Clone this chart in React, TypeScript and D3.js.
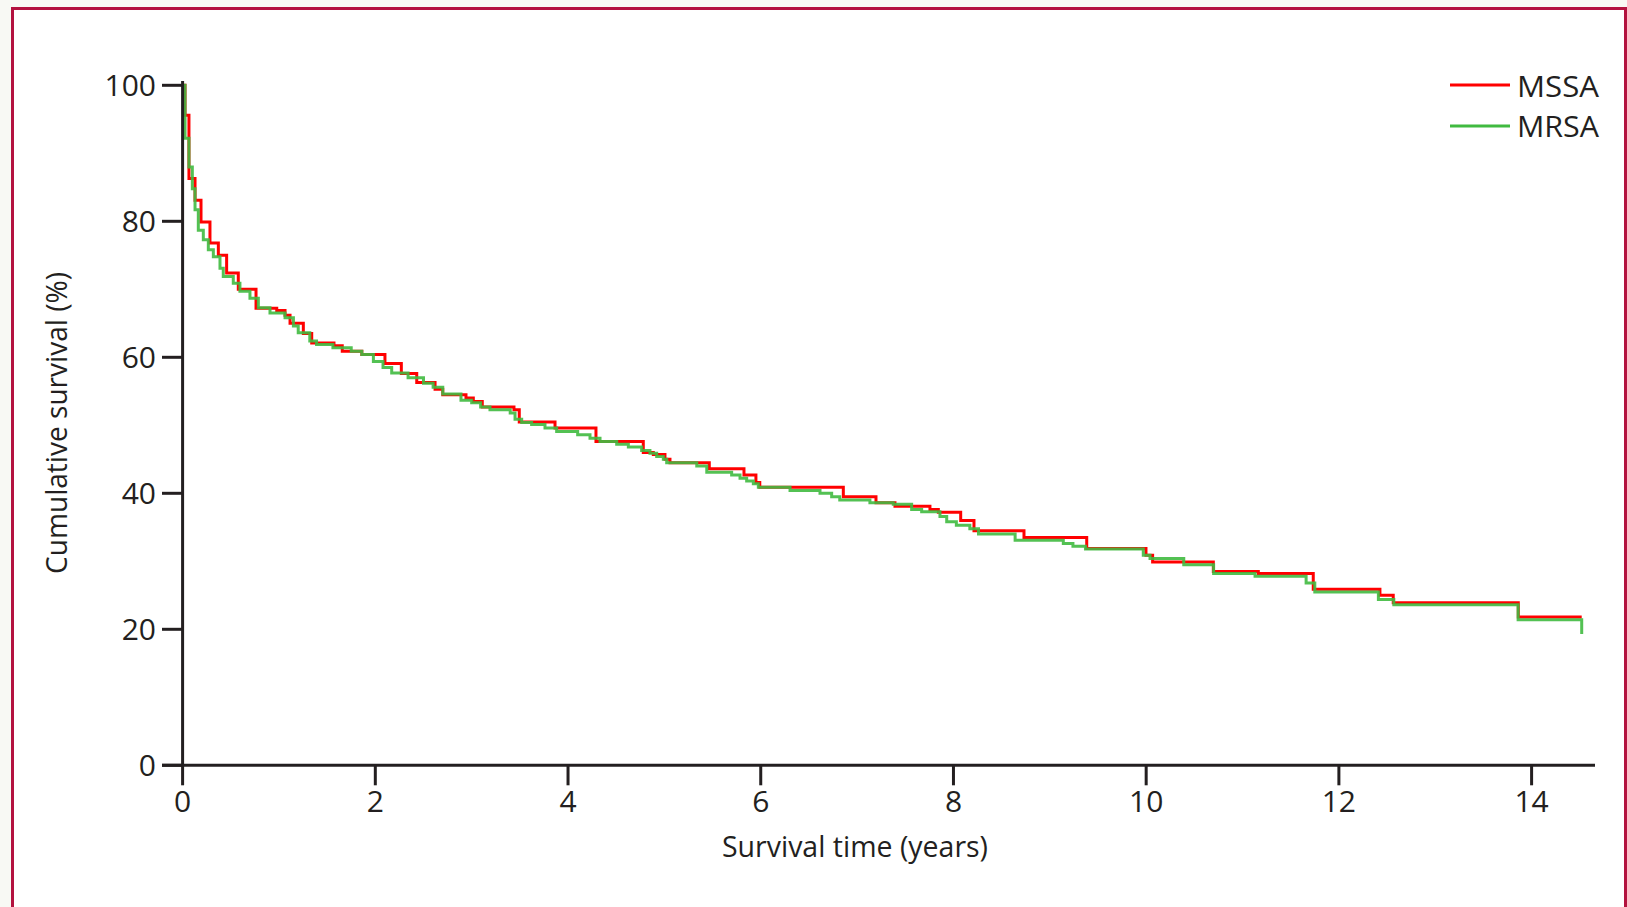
import React from 'react';
import * as d3 from 'd3';

const W = 1627;
const H = 907;

const xTicks = [0, 2, 4, 6, 8, 10, 12, 14];
const yTicks = [0, 20, 40, 60, 80, 100];
const seriesNames = ['MSSA', 'MRSA'];
const xTitle = 'Survival time (years)';
const yTitle = 'Cumulative survival (%)';

// [time in years, cumulative survival %] — step drops
const mssa: [number, number][] = [
  [0, 100], [0.025, 95.6], [0.066, 86.3], [0.129, 83.1], [0.191, 79.9], [0.284, 76.8],
  [0.371, 75.0], [0.457, 72.4], [0.578, 70.0], [0.762, 67.2], [0.977, 66.9], [1.063, 66.2],
  [1.115, 65.0], [1.253, 63.5], [1.34, 62.1], [1.571, 61.7], [1.657, 60.9], [1.86, 60.4],
  [2.10, 59.1], [2.27, 57.6], [2.43, 56.3], [2.62, 55.3], [2.70, 54.5], [2.941, 54.0],
  [3.017, 53.5], [3.11, 52.7], [3.439, 52.3], [3.494, 50.5], [3.865, 49.6], [4.29, 47.6],
  [4.781, 46.0], [4.885, 45.7], [5.006, 45.0], [5.058, 44.5], [5.466, 43.6], [5.826, 42.7],
  [5.95, 41.6], [5.99, 40.9], [6.857, 39.5], [7.196, 38.6], [7.393, 38.1], [7.756, 37.6],
  [7.843, 37.2], [8.075, 36.0], [8.213, 34.5], [8.732, 33.5], [9.383, 31.9], [9.998, 30.9],
  [10.067, 29.9], [10.697, 28.5], [11.164, 28.2], [11.734, 25.9], [12.426, 25.0], [12.564, 23.9],
  [13.862, 21.8], [14.52, 21.8],
];

const mrsa: [number, number][] = [
  [0, 100], [0.025, 92.2], [0.066, 88.0], [0.101, 84.8], [0.129, 81.7], [0.163, 78.7],
  [0.215, 77.3], [0.267, 75.8], [0.319, 74.8], [0.388, 73.1], [0.422, 71.9], [0.526, 70.9],
  [0.595, 69.7], [0.699, 68.7], [0.786, 67.3], [0.907, 66.5], [1.063, 65.8], [1.15, 64.6],
  [1.20, 63.6], [1.32, 62.4], [1.39, 61.9], [1.56, 61.4], [1.75, 60.9], [1.86, 60.4],
  [1.98, 59.4], [2.08, 58.5], [2.17, 57.7], [2.34, 57.0], [2.50, 56.2], [2.60, 55.6],
  [2.70, 54.6], [2.889, 53.7], [3.00, 53.3], [3.093, 52.7], [3.19, 52.3], [3.40, 51.8],
  [3.45, 50.9], [3.519, 50.4], [3.622, 50.1], [3.761, 49.6], [3.882, 49.1], [4.10, 48.6],
  [4.228, 48.1], [4.332, 47.6], [4.505, 47.2], [4.626, 46.8], [4.764, 46.3], [4.85, 45.9],
  [4.92, 45.4], [4.989, 45.0], [5.024, 44.5], [5.336, 44.0], [5.44, 43.1], [5.698, 42.7],
  [5.785, 42.2], [5.854, 41.8], [5.923, 41.4], [5.975, 40.9], [6.304, 40.4], [6.615, 40.0],
  [6.736, 39.5], [6.82, 39.0], [7.133, 38.6], [7.375, 38.4], [7.566, 37.6], [7.67, 37.3],
  [7.86, 36.6], [7.93, 35.8], [8.03, 35.3], [8.17, 34.8], [8.26, 34.0], [8.64, 33.1],
  [9.14, 32.6], [9.24, 32.2], [9.37, 31.8], [9.97, 30.9], [10.04, 30.4], [10.39, 29.5],
  [10.70, 28.2], [11.13, 27.8], [11.66, 26.8], [11.75, 25.5], [12.41, 24.4], [12.57, 23.6],
  [13.86, 21.4], [14.52, 21.4], [14.52, 19.3],
];

const INK = '#231f20';
const RED = '#ff0000';
const GREEN = '#40ba40';
const FONT = "'Open Sans', 'DejaVu Sans', sans-serif";

export default function App() {
  const x = d3.scaleLinear().domain([0, 14]).range([182.6, 1531.6]);
  const y = d3.scaleLinear().domain([0, 100]).range([765.3, 85.3]);
  const line = d3
    .line<[number, number]>()
    .x((d) => x(d[0]))
    .y((d) => y(d[1]))
    .curve(d3.curveStepAfter);

  const x0 = x(0);
  const y0 = y(0);

  return (
    <div style={{ position: 'fixed', left: 0, top: 0, width: W, height: H }}>
      <svg width={W} height={H} style={{ display: 'block' }} fontFamily={FONT}>
        <rect x={0} y={0} width={W} height={H} fill="#f8f9f4" />
        <rect x={12.5} y={8.5} width={1613} height={930} fill="#ffffff" stroke="#b3123f" strokeWidth={3} />

        {/* curves */}
        <path d={line(mssa) || ''} fill="none" stroke={RED} strokeWidth={3} />
        <path d={line(mrsa) || ''} fill="none" stroke={GREEN} strokeWidth={3} strokeOpacity={0.9} />

        {/* y axis */}
        <line x1={x0} x2={x0} y1={81} y2={y0 + 1.5} stroke={INK} strokeWidth={3} />
        {yTicks.map((t) => (
          <g key={'y' + t}>
            <line x1={162} x2={x0} y1={y(t)} y2={y(t)} stroke={INK} strokeWidth={3} />
            <text x={156} y={y(t) + 10.8} textAnchor="end" fontSize={30} fill={INK}>
              {t}
            </text>
          </g>
        ))}

        {/* x axis */}
        <line x1={162} x2={1595} y1={y0} y2={y0} stroke={INK} strokeWidth={3} />
        {xTicks.map((t) => (
          <g key={'x' + t}>
            <line x1={x(t)} x2={x(t)} y1={y0} y2={y0 + 20} stroke={INK} strokeWidth={3} />
            <text x={x(t)} y={812} textAnchor="middle" fontSize={30} fill={INK}>
              {t}
            </text>
          </g>
        ))}

        <text x={855} y={857} textAnchor="middle" fontSize={30} fill={INK} textLength={266} lengthAdjust="spacingAndGlyphs">
          {xTitle}
        </text>
        <text
          transform={`translate(67,423) rotate(-90)`}
          textAnchor="middle"
          fontSize={30}
          fill={INK}
          textLength={302}
          lengthAdjust="spacingAndGlyphs"
        >
          {yTitle}
        </text>

        {/* legend */}
        {seriesNames.map((n, i) => (
          <g key={n}>
            <line x1={1450} x2={1510} y1={85 + i * 41} y2={85 + i * 41} stroke={i === 0 ? RED : GREEN} strokeWidth={3} />
            <text x={1517} y={97 + i * 40} fontSize={30} fill={INK} textLength={82} lengthAdjust="spacingAndGlyphs">
              {n}
            </text>
          </g>
        ))}
      </svg>
    </div>
  );
}
